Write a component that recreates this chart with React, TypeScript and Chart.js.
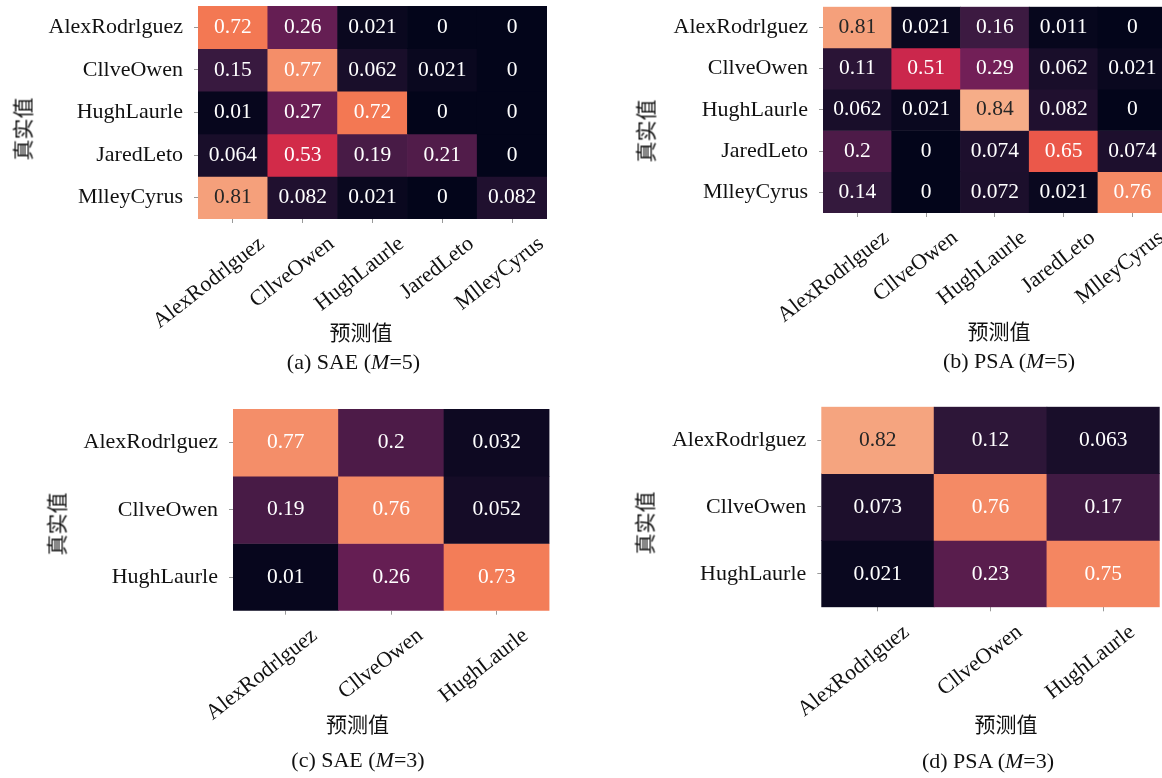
import React, { useEffect, useRef } from "react";
import { Chart, registerables } from "chart.js";

Chart.register(...registerables);

// ---------------- data ----------------
const namesM5 = ["AlexRodrlguez", "CllveOwen", "HughLaurle", "JaredLeto", "MlleyCyrus"];
const namesM3 = ["AlexRodrlguez", "CllveOwen", "HughLaurle"];

const saeM5 = [
  [0.72, 0.26, 0.021, 0, 0],
  [0.15, 0.77, 0.062, 0.021, 0],
  [0.01, 0.27, 0.72, 0, 0],
  [0.064, 0.53, 0.19, 0.21, 0],
  [0.81, 0.082, 0.021, 0, 0.082],
];
const psaM5 = [
  [0.81, 0.021, 0.16, 0.011, 0],
  [0.11, 0.51, 0.29, 0.062, 0.021],
  [0.062, 0.021, 0.84, 0.082, 0],
  [0.2, 0, 0.074, 0.65, 0.074],
  [0.14, 0, 0.072, 0.021, 0.76],
];
const saeM3 = [
  [0.77, 0.2, 0.032],
  [0.19, 0.76, 0.052],
  [0.01, 0.26, 0.73],
];
const psaM3 = [
  [0.82, 0.12, 0.063],
  [0.073, 0.76, 0.17],
  [0.021, 0.23, 0.75],
];

const yTitleText = "真实值";
const xTitleText = "预测值";
const captionTags = ["(a)", "(b)", "(c)", "(d)"];
const captionMethods = ["SAE", "PSA", "SAE", "PSA"];
const captionM = [5, 5, 3, 3];

// ---------------- style ----------------
const SERIF = "'Liberation Serif', 'DejaVu Serif', serif";
const CJK = "'Noto Sans CJK SC', 'Noto Sans CJK JP', sans-serif";
const TICK_FONT = 22;
const CELL_FONT = 21.5;
const LABEL_ROTATION = 38;
const LABEL_OFFSET = 29;
const TICK_PADDING_X = 8;

const ROCKET: [number, string][] = [
  [0, "#03051a"],
  [1 / 7, "#35193e"],
  [2 / 7, "#701f57"],
  [3 / 7, "#ad1759"],
  [4 / 7, "#e13342"],
  [5 / 7, "#f37651"],
  [6 / 7, "#f6b48f"],
  [1, "#faebdd"],
];

function hexToRgb(h: string) {
  return [parseInt(h.slice(1, 3), 16), parseInt(h.slice(3, 5), 16), parseInt(h.slice(5, 7), 16)];
}

function rocketRgb(v: number) {
  const t = Math.max(0, Math.min(1, v));
  for (let k = 0; k < ROCKET.length - 1; k++) {
    const [t0, c0] = ROCKET[k];
    const [t1, c1] = ROCKET[k + 1];
    if (t <= t1) {
      const f = (t - t0) / (t1 - t0);
      const a = hexToRgb(c0);
      const b = hexToRgb(c1);
      return a.map((x, i) => Math.round(x + (b[i] - x) * f));
    }
  }
  return hexToRgb(ROCKET[ROCKET.length - 1][1]);
}

function rocket(v: number) {
  const [r, g, b] = rocketRgb(v);
  return `rgb(${r},${g},${b})`;
}

function textColorFor(v: number) {
  const lin = rocketRgb(v).map((c) => {
    const s = c / 255;
    return s <= 0.03928 ? s / 12.92 : Math.pow((s + 0.055) / 1.055, 2.4);
  });
  const lum = 0.2126 * lin[0] + 0.7152 * lin[1] + 0.0722 * lin[2];
  return lum > 0.408 ? "#262626" : "#ffffff";
}

type Rect = { left: number; top: number; width: number; height: number };
type Area = { left: number; top: number; right: number; bottom: number };
type Panel = {
  matrix: number[][];
  names: string[];
  canvas: Rect;
  area: Area;
  yTitle: { x: number; y: number };
  xTitle: { x: number; y: number };
  cap: { x: number; y: number };
};

const panels: Panel[] = [
  {
    matrix: saeM5,
    names: namesM5,
    canvas: { left: 0, top: 0, width: 575, height: 345 },
    area: { left: 198, top: 6, right: 547, bottom: 219 },
    yTitle: { x: 22, y: 129 },
    xTitle: { x: 361, y: 331 },
    cap: { x: 353.5, y: 362 },
  },
  {
    matrix: psaM5,
    names: namesM5,
    canvas: { left: 580, top: 0, width: 600, height: 345 },
    area: { left: 823, top: 6.7, right: 1166.7, bottom: 213 },
    yTitle: { x: 645, y: 131 },
    xTitle: { x: 999, y: 330 },
    cap: { x: 1009, y: 361 },
  },
  {
    matrix: saeM3,
    names: namesM3,
    canvas: { left: 0, top: 395, width: 575, height: 350 },
    area: { left: 233, top: 409, right: 549.5, bottom: 610.7 },
    yTitle: { x: 56, y: 524 },
    xTitle: { x: 357.5, y: 723 },
    cap: { x: 358, y: 760 },
  },
  {
    matrix: psaM3,
    names: namesM3,
    canvas: { left: 580, top: 395, width: 600, height: 350 },
    area: { left: 821.3, top: 406.7, right: 1159.7, bottom: 607.3 },
    yTitle: { x: 644, y: 523 },
    xTitle: { x: 1006, y: 723 },
    cap: { x: 988, y: 761 },
  },
];

const cellTextPlugin = {
  id: "cellText",
  afterDatasetsDraw(chart: any) {
    const ctx = chart.ctx;
    ctx.save();
    ctx.font = `${CELL_FONT}px ${SERIF}`;
    ctx.textAlign = "center";
    ctx.textBaseline = "middle";
    chart.data.datasets.forEach((ds: any, i: number) => {
      const meta = chart.getDatasetMeta(i);
      meta.data.forEach((el: any, j: number) => {
        const raw = ds.data[j];
        const { x, y, base } = el.getProps(["x", "y", "base"], true);
        ctx.fillStyle = textColorFor(raw.v);
        ctx.fillText(String(raw.v), x, (y + base) / 2);
      });
    });
    ctx.restore();
  },
};

function Heatmap({ panel }: { panel: Panel }) {
  const ref = useRef<HTMLCanvasElement>(null);
  useEffect(() => {
    const p = panel;
    const n = p.names.length;
    const yWidth = p.area.left - p.canvas.left;
    const xHeight = p.canvas.top + p.canvas.height - p.area.bottom;
    const padTop = p.area.top - p.canvas.top;
    const padRight = p.canvas.left + p.canvas.width - p.area.right;
    const datasets = p.matrix.map((row, i) => ({
      label: p.names[i],
      data: row.map((v, j) => ({ x: p.names[j], y: [i, i + 1], v })),
      backgroundColor: (c: any) => rocket(c.raw ? c.raw.v : 0),
      borderWidth: 0,
      barPercentage: 1,
      categoryPercentage: 1,
      grouped: false,
    }));
    const chart = new Chart(ref.current as HTMLCanvasElement, {
      type: "bar",
      data: { labels: p.names, datasets: datasets as any },
      options: {
        responsive: false,
        animation: false,
        devicePixelRatio: 1,
        events: [],
        layout: { padding: { left: 0, top: padTop, right: padRight, bottom: 0 } },
        plugins: { legend: { display: false }, tooltip: { enabled: false }, title: { display: false } },
        scales: {
          x: {
            type: "category",
            offset: true,
            border: { display: false },
            grid: { offset: false, drawOnChartArea: false, drawTicks: true, tickLength: 4, color: "#9a9a9a", lineWidth: 1 },
            ticks: {
              autoSkip: false,
              minRotation: LABEL_ROTATION,
              maxRotation: LABEL_ROTATION,
              labelOffset: LABEL_OFFSET,
              padding: TICK_PADDING_X,
              color: "#111111",
              font: { family: SERIF, size: TICK_FONT },
            },
            afterFit: (s: any) => {
              s.height = xHeight;
              s.paddingLeft = 0;
              s.paddingRight = 0;
            },
          },
          y: {
            type: "linear",
            min: 0,
            max: n,
            reverse: true,
            border: { display: false },
            grid: { drawOnChartArea: false, drawTicks: true, tickLength: 4, color: "#9a9a9a", lineWidth: 1 },
            afterBuildTicks: (s: any) => {
              s.ticks = p.names.map((_, i) => ({ value: i + 0.5 }));
            },
            ticks: {
              padding: 11,
              color: "#111111",
              font: { family: SERIF, size: TICK_FONT },
              callback: (val: any) => p.names[Math.floor(Number(val))],
            },
            afterFit: (s: any) => {
              s.width = yWidth;
              s.paddingTop = 0;
              s.paddingBottom = 0;
            },
          },
        },
      },
      plugins: [cellTextPlugin],
    });
    return () => chart.destroy();
  }, [panel]);
  return (
    <canvas
      ref={ref}
      width={panel.canvas.width}
      height={panel.canvas.height}
      style={{
        position: "absolute",
        left: panel.canvas.left,
        top: panel.canvas.top,
        width: panel.canvas.width,
        height: panel.canvas.height,
      }}
    />
  );
}

const centered: React.CSSProperties = {
  position: "absolute",
  whiteSpace: "nowrap",
  lineHeight: 1,
  color: "#111111",
};

export default function App() {
  return (
    <div
      style={{
        position: "absolute",
        left: 0,
        top: 0,
        width: 1162,
        height: 778,
        overflow: "hidden",
        background: "#ffffff",
      }}
    >
      {panels.map((p, k) => (
        <React.Fragment key={k}>
          <Heatmap panel={p} />
          <div
            style={{
              ...centered,
              left: p.yTitle.x,
              top: p.yTitle.y,
              fontFamily: CJK,
              fontSize: 21,
              transform: "translate(-50%, -50%) rotate(-90deg)",
            }}
          >
            {yTitleText}
          </div>
          <div
            style={{
              ...centered,
              left: p.xTitle.x,
              top: p.xTitle.y,
              fontFamily: CJK,
              fontSize: 21,
              transform: "translate(-50%, -50%)",
            }}
          >
            {xTitleText}
          </div>
          <div
            style={{
              ...centered,
              left: p.cap.x,
              top: p.cap.y,
              fontFamily: SERIF,
              fontSize: 22,
              transform: "translate(-50%, -50%)",
            }}
          >
            {captionTags[k]} {captionMethods[k]} (<i>M</i>={captionM[k]})
          </div>
        </React.Fragment>
      ))}
    </div>
  );
}
